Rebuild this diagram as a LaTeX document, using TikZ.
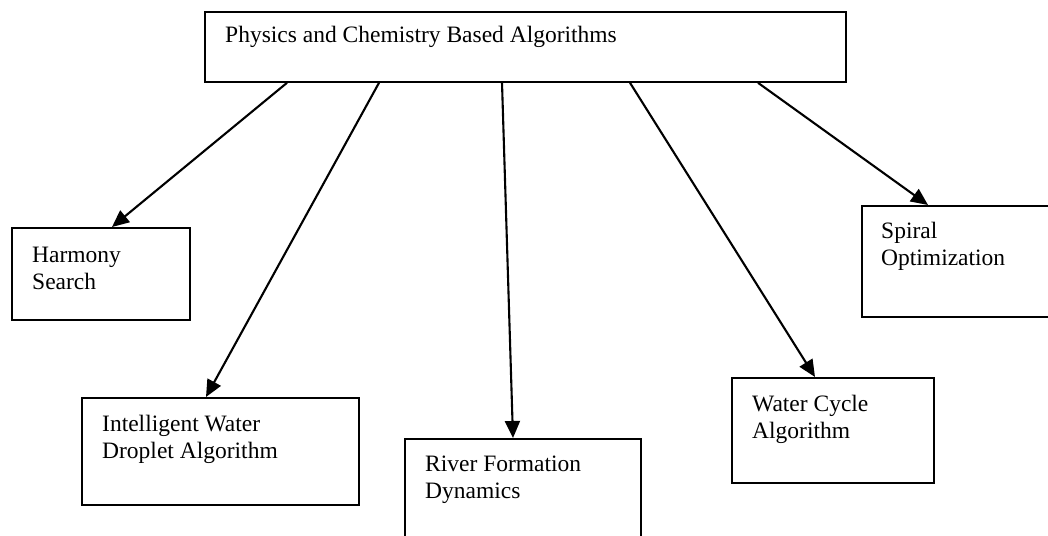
\documentclass[tikz,border=0pt]{standalone}
\usepackage{fontspec}
\setmainfont{Liberation Serif}
\usetikzlibrary{arrows.meta,calc}
\begin{document}
\begin{tikzpicture}[x=1pt,y=-1pt,
  box/.style={draw, line width=1.8pt, rectangle, inner sep=0pt, anchor=north west},
  lbl/.style={anchor=base west, inner sep=0pt, font=\fontsize{23.5}{27}\selectfont, align=left},
  arr/.style={line width=2.1pt, -{Triangle[length=17pt,width=15pt]}}]
\useasboundingbox (0,0) rectangle (1048,535);
\clip (0,0) rectangle (1048,535);
% boxes
\node[box, minimum width=641pt, minimum height=70pt] (top) at (204,11) {};
\node[box, minimum width=178pt, minimum height=92pt] (hs) at (11,227) {};
\node[box, minimum width=277pt, minimum height=107pt] (iwd) at (81,397) {};
\node[box, minimum width=236pt, minimum height=130pt] (rfd) at (404,438) {};
\node[box, minimum width=202pt, minimum height=105pt] (wca) at (731,377) {};
\node[box, minimum width=215pt, minimum height=111pt] (so) at (861,205) {};
% labels (base anchor = baseline of the last line)
\node[lbl] (topt) at ($(top.north west)+(21,32)$) {Physics and Chemistry Based Algorithms};
\node[lbl] (hst) at ($(hs.north west)+(21,62)$) {Harmony\\Search};
\node[lbl] (iwdt) at ($(iwd.north west)+(21,61)$) {Intelligent Water\\Droplet Algorithm};
\node[lbl] (rfdt) at ($(rfd.north west)+(21,60)$) {River Formation\\Dynamics};
\node[lbl] (wcat) at ($(wca.north west)+(21,61)$) {Water Cycle\\Algorithm};
\node[lbl] (sot) at ($(so.north west)+(20,60)$) {Spiral\\Optimization};
% x positions for connector ends
\coordinate (s1) at (287,0);
\coordinate (s2) at (379,0);
\coordinate (s3) at (502,0);
\coordinate (s4) at (630,0);
\coordinate (s5) at (758,0);
\coordinate (e1) at (112,0);
\coordinate (e2) at (206,0);
\coordinate (e3) at (513,0);
\coordinate (e4) at (815,0);
\coordinate (e5) at (928,0);
% connectors
\draw[arr] (top.south -| s1) -- (hs.north -| e1);
\draw[arr] (top.south -| s2) -- (iwd.north -| e2);
\draw[arr] (top.south -| s3) -- (rfd.north -| e3);
\draw[arr] (top.south -| s4) -- (wca.north -| e4);
\draw[arr] (top.south -| s5) -- (so.north -| e5);
\end{tikzpicture}
\end{document}
